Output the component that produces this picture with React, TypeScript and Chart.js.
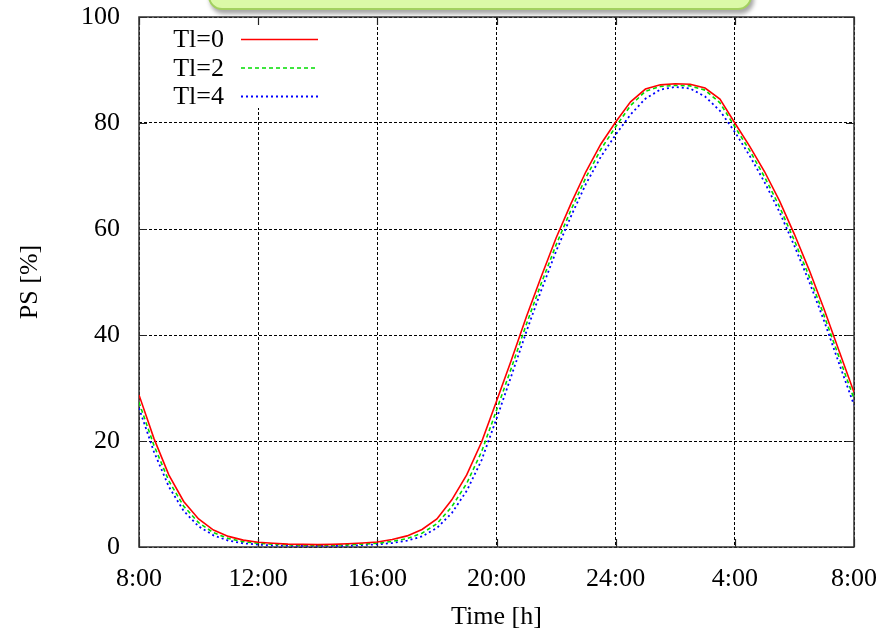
import React, { useEffect, useRef } from "react";
import { Chart, registerables } from "chart.js";

Chart.register(...registerables);

const hours = [
  0, 0.5, 1, 1.5, 2, 2.5, 3, 3.5, 4, 4.5, 5, 5.5, 6, 6.5, 7, 7.5, 8, 8.5, 9, 9.5,
  10, 10.5, 11, 11.5, 12, 12.5, 13, 13.5, 14, 14.5, 15, 15.5, 16, 16.5, 17, 17.5,
  18, 18.5, 19, 19.5, 20, 20.5, 21, 21.5, 22, 22.5, 23, 23.5, 24,
];

const tl0 = [
  28.7, 20.5, 13.6, 8.6, 5.3, 3.2, 2.0, 1.3, 0.9, 0.7, 0.55, 0.5, 0.45, 0.5, 0.6, 0.75,
  0.95, 1.4, 2.1, 3.3, 5.3, 8.9, 13.6, 19.8, 27.5, 35.3, 43.4, 51.0, 58.3, 64.8, 70.8,
  76.0, 80.2, 84.0, 86.4, 87.2, 87.4, 87.3, 86.6, 84.5, 80.0, 75.6, 70.8, 65.3, 59.0,
  52.2, 44.8, 37.0, 29.2,
];

const tl2 = [
  27.3, 19.2, 12.5, 7.7, 4.6, 2.7, 1.6, 1.0, 0.7, 0.5, 0.4, 0.35, 0.3, 0.35, 0.4, 0.55,
  0.7, 1.05, 1.6, 2.6, 4.4, 7.6, 12.0, 18.0, 25.8, 33.8, 42.0, 49.7, 57.0, 63.6, 69.7,
  75.0, 79.3, 83.3, 86.0, 86.9, 87.1, 87.0, 86.2, 83.8, 79.3, 74.8, 69.8, 64.2, 57.8,
  51.0, 43.6, 35.8, 28.0,
];

const tl4 = [
  26.2, 18.0, 11.4, 6.8, 3.9, 2.2, 1.2, 0.7, 0.45, 0.3, 0.25, 0.2, 0.2, 0.2, 0.25, 0.35,
  0.5, 0.75, 1.2, 2.0, 3.6, 6.4, 10.6, 16.4, 24.2, 32.3, 40.6, 48.4, 55.8, 62.4, 68.5,
  73.6, 77.8, 81.6, 84.6, 86.3, 86.8, 86.5, 85.0, 82.3, 78.3, 73.8, 68.8, 63.2, 56.8,
  50.0, 42.6, 34.6, 26.8,
];

const seriesLabels = ["Tl=0", "Tl=2", "Tl=4"];
const xTickLabels = ["8:00", "12:00", "16:00", "20:00", "24:00", "4:00", "8:00"];
const xTitle = "Time [h]";
const yTitle = "PS [%]";

const FONT = "'Liberation Serif', 'Times New Roman', serif";

const frameAndLegend = {
  id: "frameAndLegend",
  beforeDatasetsDraw(chart: any) {
    const { ctx, chartArea } = chart;
    const { left, right, top, bottom } = chartArea;
    const xs = chart.scales.x;
    const ys = chart.scales.y;
    ctx.save();
    // white key background (hides grid under legend)
    ctx.fillStyle = "#fff";
    ctx.fillRect(150, top + 9, 180, 108 - top - 9);
    // inner tick marks
    ctx.strokeStyle = "#222";
    ctx.lineWidth = 1.2;
    ctx.setLineDash([]);
    xs.ticks.forEach((t: any) => {
      const px = Math.round(xs.getPixelForValue(t.value)) + 0.5;
      ctx.beginPath();
      ctx.moveTo(px, bottom);
      ctx.lineTo(px, bottom - 8);
      ctx.moveTo(px, top);
      ctx.lineTo(px, top + 8);
      ctx.stroke();
    });
    ys.ticks.forEach((t: any) => {
      const py = Math.round(ys.getPixelForValue(t.value)) + 0.5;
      ctx.beginPath();
      ctx.moveTo(left, py);
      ctx.lineTo(left + 8, py);
      ctx.moveTo(right, py);
      ctx.lineTo(right - 8, py);
      ctx.stroke();
    });
    // frame
    ctx.strokeStyle = "#333";
    ctx.lineWidth = 1.5;
    ctx.strokeRect(left, top, right - left, bottom - top);
    ctx.restore();
  },
  afterDatasetsDraw(chart: any) {
    const { ctx } = chart;
    ctx.save();
    const rows = [39.5, 68, 96.5];
    chart.data.datasets.forEach((ds: any, i: number) => {
      const y = rows[i];
      ctx.fillStyle = "#000";
      ctx.font = `26px ${FONT}`;
      ctx.textAlign = "right";
      ctx.textBaseline = "middle";
      ctx.fillText(ds.label, 224, y + 1);
      ctx.strokeStyle = ds.borderColor;
      ctx.lineWidth = ds.borderWidth;
      ctx.setLineDash(ds.borderDash || []);
      ctx.beginPath();
      ctx.moveTo(241, y);
      ctx.lineTo(318, y);
      ctx.stroke();
    });
    ctx.restore();
  },
};

export default function App() {
  const canvasRef = useRef<HTMLCanvasElement | null>(null);

  useEffect(() => {
    const canvas = canvasRef.current;
    if (!canvas) return;
    const mk = (vals: number[]) => hours.map((h, i) => ({ x: h, y: vals[i] }));
    const chart = new Chart(canvas, {
      type: "line",
      data: {
        datasets: [
          {
            label: seriesLabels[0],
            data: mk(tl0),
            borderColor: "#ff0000",
            borderWidth: 1.6,
            pointRadius: 0,
            tension: 0,
          },
          {
            label: seriesLabels[1],
            data: mk(tl2),
            borderColor: "#00dd00",
            borderWidth: 1.6,
            borderDash: [4, 3],
            pointRadius: 0,
            tension: 0,
          },
          {
            label: seriesLabels[2],
            data: mk(tl4),
            borderColor: "#0000ff",
            borderWidth: 1.8,
            borderDash: [2, 3],
            pointRadius: 0,
            tension: 0,
          },
        ] as any,
      },
      options: {
        responsive: false,
        animation: false,
        events: [],
        layout: { padding: { left: 0, right: 29, top: 17, bottom: 0 } },
        plugins: {
          legend: { display: false },
          tooltip: { enabled: false },
        },
        scales: {
          x: {
            type: "linear",
            min: 0,
            max: 24,
            border: { display: false, dash: [3, 2] },
            grid: {
              color: "#000",
              lineWidth: 1,
              drawTicks: false,
            },
            ticks: {
              stepSize: 4,
              padding: 17,
              color: "#000",
              font: { family: FONT, size: 26 },
              maxRotation: 0,
              callback: (v: any) => xTickLabels[Math.round(Number(v) / 4)] ?? "",
            },
            title: {
              display: true,
              text: xTitle,
              color: "#000",
              font: { family: FONT, size: 26 },
              padding: { top: 0, bottom: 3 },
            },
            afterFit: (s: any) => {
              s.height = 89;
              s.paddingLeft = 0;
              s.paddingRight = 0;
            },
          },
          y: {
            min: 0,
            max: 100,
            border: { display: false, dash: [3, 2] },
            grid: {
              color: "#000",
              lineWidth: 1,
              drawTicks: false,
            },
            ticks: {
              stepSize: 20,
              padding: 19,
              color: "#000",
              font: { family: FONT, size: 26 },
            },
            title: {
              display: true,
              text: yTitle,
              color: "#000",
              font: { family: FONT, size: 26 },
              padding: { top: 15, bottom: 0 },
            },
            afterFit: (s: any) => {
              s.width = 139;
              s.paddingTop = 0;
              s.paddingBottom = 0;
            },
          },
        },
      },
      plugins: [frameAndLegend],
    } as any);

    return () => chart.destroy();
  }, []);

  return (
    <div style={{ position: "fixed", left: 0, top: 0, width: 883, height: 636, background: "#fff" }}>
      <canvas ref={canvasRef} width={883} height={636} style={{ position: "absolute", left: 0, top: 0 }} />
      <div
        style={{
          position: "absolute",
          left: 208,
          top: -22,
          width: 540,
          height: 28,
          background: "#dbf9a7",
          border: "2px solid #a3d060",
          borderRadius: 14,
          boxShadow: "2px 4px 4px rgba(0,0,0,0.35)",
        }}
      />
    </div>
  );
}
